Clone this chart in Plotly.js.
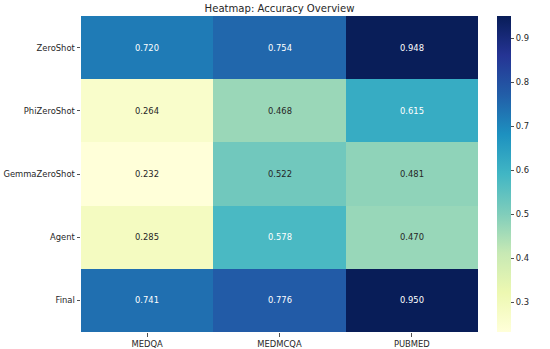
<!DOCTYPE html>
<html>
<head>
<meta charset="utf-8">
<script src="https://cdn.plot.ly/plotly-3.0.1.min.js"></script>
<style>html,body{margin:0;padding:0;background:#fff;}#chart{width:550px;height:349px;}</style>
</head>
<body>
<div id="chart"></div>
<script>
const datasets = ["MEDQA", "MEDMCQA", "PUBMED"];
const methods = ["ZeroShot", "PhiZeroShot", "GemmaZeroShot", "Agent", "Final"];
const accuracy = [
  [0.720, 0.754, 0.948],
  [0.264, 0.468, 0.615],
  [0.232, 0.522, 0.481],
  [0.285, 0.578, 0.470],
  [0.741, 0.776, 0.950]
];
const colorbarTicks = [0.3, 0.4, 0.5, 0.6, 0.7, 0.8, 0.9];

const ylgnbu = ["#ffffd9", "#edf8b1", "#c7e9b4", "#7fcdbb", "#41b6c4", "#1d91c0", "#225ea8", "#253494", "#081d58"];
const colorscale = ylgnbu.map((c, i) => [i / (ylgnbu.length - 1), c]);
const flat = accuracy.flat();
const zmin = Math.min(...flat), zmax = Math.max(...flat);

const FS = 8.4;
const annotations = [];
methods.forEach((m, i) => {
  datasets.forEach((d, j) => {
    const v = accuracy[i][j];
    const frac = (v - zmin) / (zmax - zmin);
    annotations.push({
      x: d, y: m, xref: "x", yref: "y",
      text: v.toFixed(3), showarrow: false,
      font: {family: "DejaVu Sans", size: FS, color: frac > 0.45 ? "#ffffff" : "#262626"}
    });
  });
});

const trace = {
  type: "heatmap",
  x: datasets, y: methods, z: accuracy,
  zmin: zmin, zmax: zmax,
  colorscale: colorscale,
  xgap: 0, ygap: 0,
  hoverinfo: "none",
  colorbar: {
    x: 1.048, xanchor: "left", xpad: 0, ypad: 0,
    y: 0.5, yanchor: "middle", len: 1, lenmode: "fraction",
    thickness: 14, thicknessmode: "pixels",
    outlinewidth: 0,
    tickvals: colorbarTicks,
    ticktext: colorbarTicks.map(t => t.toFixed(1)),
    ticks: "outside", ticklen: 3.5, tickwidth: 0.8, tickcolor: "#262626",
    tickfont: {family: "DejaVu Sans", size: FS, color: "#262626"}
  }
};

const layout = {
  width: 550, height: 349,
  margin: {l: 81, r: 72, t: 16, b: 17, pad: 0},
  paper_bgcolor: "#ffffff", plot_bgcolor: "#ffffff",
  title: {text: "Heatmap: Accuracy Overview", x: 0.5, xref: "paper", xanchor: "center",
          y: 1, yref: "paper", yanchor: "bottom", pad: {b: 4},
          font: {family: "DejaVu Sans", size: 10.1, color: "#262626"}},
  xaxis: {type: "category", showgrid: false, zeroline: false, showline: false,
          ticks: "outside", ticklen: 3.5, tickwidth: 0.8, tickcolor: "#262626",
          tickfont: {family: "DejaVu Sans", size: FS, color: "#262626"}},
  yaxis: {type: "category", autorange: "reversed", showgrid: false, zeroline: false, showline: false,
          ticks: "outside", ticklen: 3.5, tickwidth: 0.8, tickcolor: "#262626",
          tickfont: {family: "DejaVu Sans", size: FS, color: "#262626"}},
  annotations: annotations
};

Plotly.newPlot("chart", [trace], layout, {staticPlot: true, displayModeBar: false});
</script>
</body>
</html>
